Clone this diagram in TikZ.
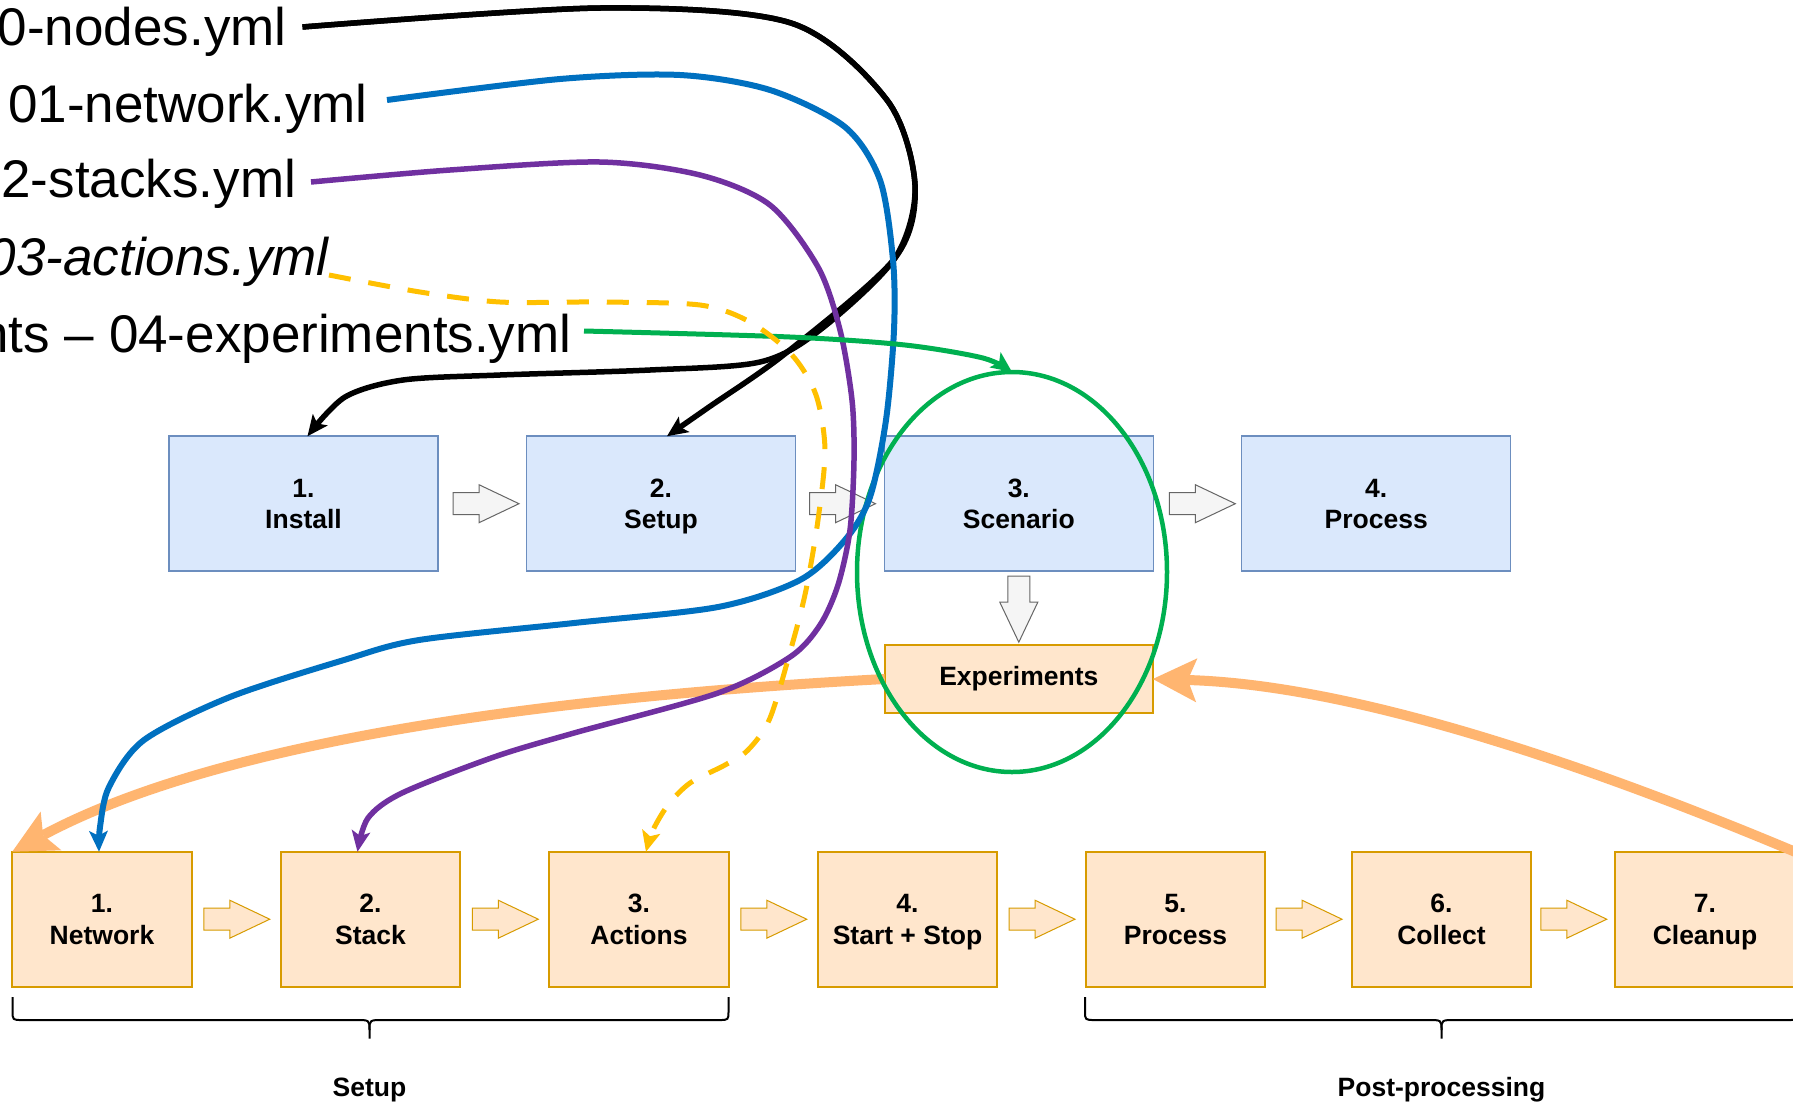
\documentclass[tikz,border=0pt]{standalone}
\usepackage{fontspec}
\setmainfont{Liberation Sans}
\usetikzlibrary{calc,arrows.meta,shapes.geometric}

\newcommand\stagefont{\fontsize{26.5}{31.5}\selectfont\bfseries}
\newcommand\filefont{\fontsize{53}{60}\selectfont}
% two centred lines with a fixed height above and depth below
\newcommand\stagelines[2]{\rule{0pt}{24.5pt}#1\\#2\rule[-6pt]{0pt}{6pt}}

\definecolor{boxblue}{HTML}{DAE8FC}
\definecolor{edgeblue}{HTML}{6C8EBF}
\definecolor{boxorange}{HTML}{FFE6CC}
\definecolor{edgeorange}{HTML}{D79B00}
\definecolor{arrowgray}{HTML}{F5F5F5}
\definecolor{arrowedge}{HTML}{666666}
\definecolor{linkblue}{HTML}{0070C0}
\definecolor{linkpurple}{HTML}{7030A0}
\definecolor{linkyellow}{HTML}{FFC000}
\definecolor{linkgreen}{HTML}{00B050}
\definecolor{flowback}{HTML}{FFB570}

\tikzset{
  stage/.style={draw=edgeblue, fill=boxblue, line width=1.5pt, minimum width=269pt,
    minimum height=135pt, inner sep=0pt, outer sep=0pt, align=center, font=\stagefont},
  task/.style={draw=edgeorange, fill=boxorange, line width=2pt, minimum width=179.5pt,
    minimum height=135pt, inner sep=0pt, outer sep=0pt, align=center, font=\stagefont},
  yamlfile/.style={font=\filefont, inner sep=0pt, outer sep=0pt, anchor=base east},
  grayflow/.style={fill=arrowgray, draw=arrowedge, line width=1pt},
  orangeflow/.style={fill=boxorange, draw=edgeorange, line width=1pt},
  pics/blockarrow/.style={code={
    \draw[#1] (0,-11) -- (26,-11) -- (26,-19) -- (66,0) -- (26,19) -- (26,11) -- (0,11) -- cycle;}},
  link/.style={line cap=butt, line join=round,
    -{Stealth[length=21pt,width=19pt,inset=5pt,line width=0pt]}},
  backflow/.style={draw=flowback, line width=10pt,
    -{Stealth[length=44pt,width=44pt,inset=9pt,line width=0pt]}},
  bracket/.style={line width=2pt, line join=round},
  grouplabel/.style={font=\stagefont, anchor=base, inner sep=0pt},
}

\begin{document}
\begin{tikzpicture}[x=1pt,y=-1pt]
\fill[white] (0,0) rectangle (1793,1104);
\useasboundingbox (0,0) rectangle (1793,1104);

% configuration files
\node[yamlfile] (nodesfile) at (286.5,45) {0-nodes.yml};
\node[yamlfile] (networkfile) at (367.5,122) {01-network.yml};
\node[yamlfile] (stacksfile) at (296,197) {2-stacks.yml};
\node[yamlfile, font=\filefont\itshape] (actionsfile) at (328.5,275) {03-actions.yml};
\node[yamlfile] (experimentsfile) at (571.5,352) {nts – 04-experiments.yml};

% main phases
\node[stage] (install)  at (303.5,503.7) {\stagelines{1.}{Install}};
\node[stage] (setup)    at (661,503.7)   {\stagelines{2.}{Setup}};
\node[stage] (scenario) at (1018.8,503.7) {\stagelines{3.}{Scenario}};
\node[stage] (process)  at (1376.2,503.7) {\stagelines{4.}{Process}};

\node[task, minimum width=268pt, minimum height=67.7pt] (experiments) at (1018.8,679) {Experiments};

% experiment steps
\node[task] (network) at (102,919.2)    {\stagelines{1.}{Network}};
\node[task] (stack)   at (370.5,919.2)  {\stagelines{2.}{Stack}};
\node[task] (actions) at (639,919.2)    {\stagelines{3.}{Actions}};
\node[task] (startstop) at (907.5,919.2) {\stagelines{4.}{Start + Stop}};
\node[task] (postproc) at (1175.5,919.2) {\stagelines{5.}{Process}};
\node[task] (collect) at (1441.5,919.2) {\stagelines{6.}{Collect}};
\node[task] (cleanup) at (1705,919.2)   {\stagelines{7.}{Cleanup}};

% phase order
\pic at ($(install.east)+(15,0)$) {blockarrow=grayflow};
\pic at ($(setup.east)+(14,0)$) {blockarrow=grayflow};
\pic at ($(scenario.east)+(16,0)$) {blockarrow=grayflow};
\pic[rotate=-90] at ($(scenario.south)+(0,5)$) {blockarrow=grayflow};

% step order
\foreach \a/\b in {network/stack, stack/actions, actions/startstop,
                   startstop/postproc, postproc/collect, collect/cleanup}
  \pic at ($(\a.east)!0.5!(\b.west)+(-32.5,0)$) {blockarrow=orangeflow};

% groups of steps
\draw[bracket] (12.6,997) -- (12.6,1011) .. controls (12.6,1020) .. (22,1020) -- (356,1020)
  .. controls (369.5,1020) .. (369.5,1030) -- (369.5,1038.5);
\draw[bracket] (369.5,1030) .. controls (369.5,1020) .. (383,1020) -- (719,1020)
  .. controls (728.5,1020) .. (728.5,1011) -- (728.5,997);
\draw[bracket] (1085,997) -- (1085,1011) .. controls (1085,1020) .. (1095,1020) -- (1428,1020)
  .. controls (1441.5,1020) .. (1441.5,1030) -- (1441.5,1038.5);
\draw[bracket] (1441.5,1030) .. controls (1441.5,1020) .. (1455,1020) -- (1788,1020)
  .. controls (1798,1020) .. (1798,1011) -- (1798,997);
\node[grouplabel] (setuplabel) at (369.5,1096.7) {Setup};
\node[grouplabel] (postlabel) at (1441.5,1096.7) {Post-processing};

% loop over experiments
\draw[backflow] (experiments.west) .. controls (584,695) and (230,735) .. (network.north west);
\draw[backflow] (cleanup.north east) .. controls (1600,770) and (1360,685) .. (experiments.east);

% scope of the experiments file
\node[draw=linkgreen, line width=4.5pt, ellipse, minimum width=310pt, minimum height=400pt,
      inner sep=0pt, outer sep=0pt] (focus) at (1012,572) {};

% connector end points
\coordinate (nodesout) at ($(nodesfile.base east)+(16,-18)$);
\coordinate (networkout) at ($(networkfile.base east)+(19.5,-22)$);
\coordinate (stacksout) at ($(stacksfile.base east)+(15,-15)$);
\coordinate (actionsout) at ($(actionsfile.base east)+(0.5,0)$);
\coordinate (experimentsout) at ($(experimentsfile.base east)+(12.5,-21)$);
\coordinate (installin) at ($(install.north)+(4,0)$);
\coordinate (setupin) at ($(setup.north)+(6,0)$);
\coordinate (networkin) at ($(network.north)+(-3,0)$);
\coordinate (stackin) at ($(stack.north)+(-13,0)$);
\coordinate (actionsin) at ($(actions.north)+(7,0)$);

% file links
\draw[link, black, line width=5.5pt] plot[smooth] coordinates {(nodesout) (600,8) (791,23)
  (887,100) (915,185) (895,258) (820,330) (760,362) (650,370) (500,375) (403,380) (345,397) (installin)};
\draw[link, black, line width=5.5pt] plot[smooth] coordinates {(nodesout) (600,8) (791,23)
  (887,100) (915,185) (895,258) (786,353) (709,407) (setupin)};
\draw[link, linkblue, line width=6pt] plot[smooth] coordinates {(networkout) (560,79) (680,75)
  (770,90) (845,127) (880,180) (893,260) (894,330) (886,420) (870,497) (845,540) (800,580)
  (718,607) (574,623) (419,640) (344,660) (230,697) (144,740) (109,787) (100,827) (networkin)};
\draw[link, linkpurple, line width=5.5pt] plot[smooth] coordinates {(stacksout) (450,170) (600,162)
  (700,175) (770,205) (818,267) (840,330) (852,400) (854,460) (850,530) (838,585) (820,625)
  (790,657) (718,693) (574,733) (494,757) (402,793) (368,818) (stackin)};
\draw[link, linkgreen, line width=5pt] plot[smooth] coordinates {(experimentsout) (790,337)
  (905,345) (983,358) (focus.north)};
\draw[link, linkyellow, line width=5pt, dash pattern=on 22pt off 18pt] plot[smooth] coordinates
  {(actionsout) (420,292) (500,302) (600,302) (700,305) (750,322) (792,355) (816,395) (825,450)
  (818,520) (806,590) (792,645) (770,718) (748,750) (725,765) (690,783) (668,805) (653,830) (actionsin)};
\end{tikzpicture}
\end{document}
